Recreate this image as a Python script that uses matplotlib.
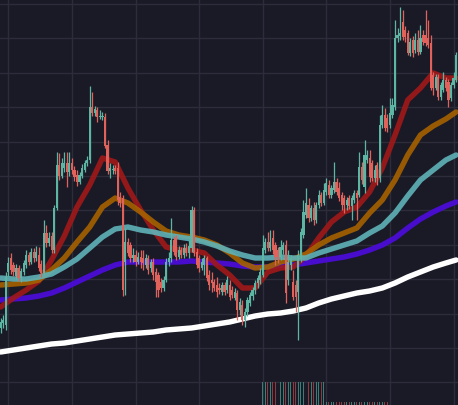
import numpy as np
import matplotlib
matplotlib.use("Agg")
import matplotlib.pyplot as plt

# ---- candle data (price units) ----
opens = [172,177,175,228,242,235,224,232,222,228,235,245,238,248,242,245,236,227,267,257,
         264,250,292,335,324,332,337,328,337,330,325,318,324,330,337,340,393,387,390,383,
         383,383,355,329,330,332,332,303,302,238,258,255,242,245,238,243,242,235,242,232,
         238,228,225,218,212,220,238,242,260,262,243,250,245,252,247,252,290,248,242,232,
         235,242,225,220,218,215,212,208,215,210,215,210,202,207,190,195,180,188,197,204,
         210,217,220,225,250,258,252,262,255,250,243,250,255,220,235,218,215,208,242,265,
         285,295,282,292,280,295,305,297,308,315,305,310,318,312,305,302,295,302,294,300,
         307,305,333,313,340,342,337,322,335,322,375,385,382,375,385,393,462,464,478,470,
         467,447,460,450,460,448,465,465,462,457,425,412,423,403,410,420,418,402,415,420]
closes = [178,180,223,237,230,228,232,222,229,237,245,238,248,242,248,232,227,267,257,262,
          250,292,335,324,337,337,328,337,330,323,318,325,332,337,340,393,387,391,383,384,
          384,354,329,332,331,329,300,297,210,258,247,242,245,238,243,238,237,242,230,238,
          225,218,210,212,220,238,242,260,248,243,250,245,252,247,254,290,247,235,232,238,
          242,222,215,217,212,208,210,215,208,220,203,205,208,190,198,180,188,200,205,210,
          217,222,228,252,258,252,258,250,243,240,253,255,207,238,242,203,203,245,268,288,
          297,282,292,280,295,305,297,310,317,305,312,318,308,302,295,295,300,294,302,307,
          302,333,320,345,345,323,322,330,322,375,385,372,372,387,395,462,465,467,463,463,
          447,458,447,460,448,462,458,457,455,412,412,423,403,415,420,412,400,415,422,445]
highs = [182,185,228,243,247,238,236,235,232,240,250,248,252,252,254,253,240,280,275,268,
         268,295,348,347,342,348,348,348,342,334,330,328,336,340,344,414,408,394,393,390,
         388,387,360,337,335,335,338,308,305,272,262,258,252,250,248,250,250,246,245,241,
         242,232,228,222,224,242,248,282,264,265,254,253,256,257,260,294,293,252,245,242,
         245,244,230,228,221,223,217,218,218,224,220,214,212,210,202,200,192,203,208,213,
         220,225,232,265,262,268,270,270,258,253,260,258,260,250,245,230,220,250,272,300,
         312,302,295,298,298,310,308,317,322,320,315,338,322,318,308,305,303,305,305,310,
         310,348,338,360,350,350,340,335,338,385,395,392,386,402,402,480,472,493,490,474,
         470,462,464,467,470,475,470,490,480,465,428,426,426,418,428,423,421,418,428,448]
lows = [167,172,170,224,226,224,221,219,218,225,232,235,236,238,239,229,223,225,253,254,
        247,247,290,320,322,328,313,324,326,319,314,316,322,328,334,337,384,384,378,381,
        380,352,326,322,326,326,295,293,204,205,244,238,238,234,236,232,230,232,226,228,
        220,203,203,208,209,218,234,238,245,240,241,242,242,244,242,248,244,232,228,230,
        225,219,210,208,209,203,206,205,205,207,200,202,200,180,185,175,173,184,194,200,
        206,212,216,223,247,249,249,246,235,237,240,246,197,215,230,200,188,160,238,262,
        282,278,279,275,277,292,294,295,305,302,302,307,305,299,290,287,290,291,280,297,
        280,303,316,307,337,318,319,318,315,318,372,369,368,372,382,390,458,460,460,458,
        445,444,443,447,445,446,455,454,452,410,405,410,400,400,408,409,393,399,412,418]

# ---- volume (only present for a window of candles) ----
volume_start = 103
volume_window = [1150,1150,1150,1150,1150,1150,1150,1150,1150,1150,1150,1150,1150,
                 1150,1150,1150,1150,1150,1150,1150,1150,1150,1150,1150,1150,
                 150,150,150,150,150,150,150,150,150,150,150,150,150,
                 150,150,150,150,150,150,150,150,150,150,150,150]

# ---- moving averages, sampled every 5 candles ----
ma_index = [0,5,10,15,20,25,30,35,40,45,50,55,60,65,70,75,80,85,90,95,
            100,105,110,115,120,125,130,135,140,145,150,155,160,165,170,175,179]
ma_10 = [193,202,210,219,240,264,293,315,342,338,312,290,270,253,250,250,247,235,225,212,
         212,228,232,233,244,262,278,288,293,308,332,365,400,412,427,422,422]
ma_20 = [215,216,217,220,230,242,258,273,293,302,297,288,278,269,265,263,260,255,247,237,
         232,233,238,241,246,255,262,267,272,287,300,320,345,365,374,381,388]
ma_30 = [222,221,221,223,226,233,241,252,263,271,273,270,268,265,263,261,258,254,249,245,
         242,242,243,242,242,247,251,255,259,267,274,287,304,320,330,340,345]
ma_60 = [200,201,202,204,207,212,218,224,230,235,238,238,238,238,238,239,238,237,236,234,
         233,233,234,235,237,239,241,243,246,250,255,262,272,281,288,294,298]
ma_200 = [148,150,152,154,156,157,159,161,163,165,166,167,168,170,171,172,174,176,178,181,
          184,186,187,189,192,197,201,204,207,209,212,217,223,228,233,237,240]

BG = "#1a1a27"
GRID = "#2c2c3b"
UP = "#5db5a4"
DOWN = "#e0625a"
UP_VOL = "#3b7e78"
DOWN_VOL = "#8c3a40"

fig = plt.figure(figsize=(4.58, 4.05), dpi=100)
fig.patch.set_facecolor(BG)
ax = fig.add_axes([0, 0, 1, 1])
ax.set_facecolor(BG)

o = np.array(opens, float)
c = np.array(closes, float)
h = np.array(highs, float)
l = np.array(lows, float)
idx = np.arange(len(o))
up = c >= o
cols = np.where(up, UP, DOWN)

# grid
ax.set_xticks(np.arange(3, 180, 25))
ax.set_yticks(np.arange(117.6, 500, 34.4))
ax.grid(True, color=GRID, linewidth=1.0)
ax.set_axisbelow(True)
ax.tick_params(length=0, labelbottom=False, labelleft=False)
for s in ax.spines.values():
    s.set_visible(False)

# moving averages
lw = 3.9
style = dict(lw=lw, solid_joinstyle="round", solid_capstyle="round")
ax.plot(ma_index, ma_200, color="#ffffff", zorder=2, **style)
ax.plot(ma_index, ma_60, color="#4a0cd6", alpha=0.95, zorder=2, **style)
ax.plot(ma_index, ma_30, color="#5fb3b8", alpha=0.9, zorder=3, **style)
ax.plot(ma_index, ma_20, color="#a66200", alpha=0.9, zorder=2.5, **style)
ax.plot(ma_index, ma_10, color="#a01818", alpha=0.9, zorder=2.4, **style)

# candles
ax.vlines(idx, l, h, colors=cols, lw=0.9, zorder=4)
body = c - o
body = np.where(np.abs(body) < 1.0, 1.0, body)
ax.bar(idx, body, bottom=o, width=0.85, color=cols, linewidth=0, zorder=5)

ax.set_xlim(-0.275, 179.75)
ax.set_ylim(95, 500)

# volume
axv = fig.add_axes([0, 0, 1, 1], sharex=ax)
axv.patch.set_alpha(0)
vidx = np.arange(volume_start, volume_start + len(volume_window))
vcols = np.where(up[vidx], UP_VOL, DOWN_VOL)
axv.bar(vidx, volume_window, width=0.38, color=vcols, linewidth=0)
axv.set_ylim(0, 20250)
axv.set_xlim(-0.275, 179.75)
axv.axis("off")

fig.savefig("out.png", dpi=100, facecolor=BG)
